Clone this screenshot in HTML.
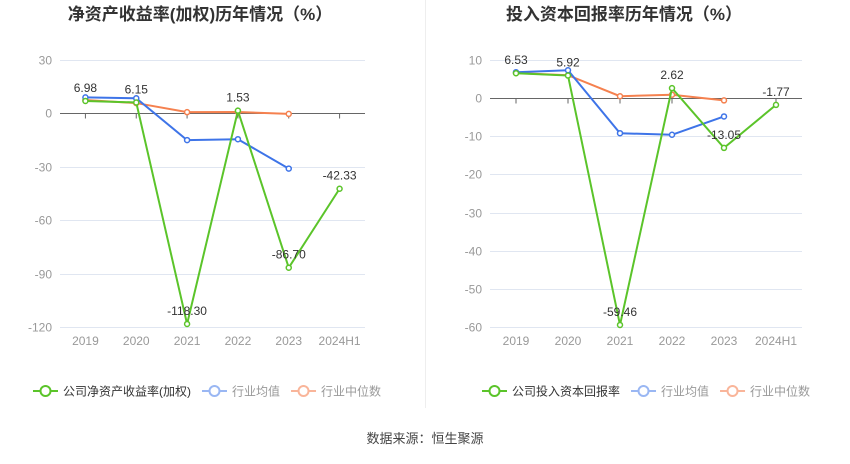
<!DOCTYPE html>
<html><head><meta charset="utf-8">
<style>
body{margin:0;background:#fff;width:850px;height:459px;overflow:hidden;font-family:"Liberation Sans","Noto Sans CJK SC",sans-serif;}
svg text{font-family:"Liberation Sans","Noto Sans CJK SC",sans-serif;}
</style></head>
<body>
<svg id="chart" width="850" height="459">
<line x1="425.5" y1="0" x2="425.5" y2="408" stroke="#eeeeee"/>
<text x="425" y="443" font-size="13" fill="#444" text-anchor="middle">数据来源：恒生聚源</text>
</svg>
<script>
const categories = ["2019","2020","2021","2022","2023","2024H1"];
const roeCompany = [6.98, 6.15, -118.30, 1.53, -86.70, -42.33];
const roeAvg = [9.0, 8.5, -15.0, -14.5, -31.0, null];
const roeMedian = [7.5, 5.8, 0.7, 0.8, -0.3, null];
const roeTicks = [30, 0, -30, -60, -90, -120];
const roiCompany = [6.53, 5.92, -59.46, 2.62, -13.05, -1.77];
const roiAvg = [6.8, 7.3, -9.2, -9.6, -4.8, null];
const roiMedian = [6.6, 6.0, 0.5, 0.9, -0.6, null];
const roiTicks = [10, 0, -10, -20, -30, -40, -50, -60];

const svg = document.getElementById('chart');
const NS = 'http://www.w3.org/2000/svg';
function mk(tag, attrs, parent){const e=document.createElementNS(NS,tag);for(const k in attrs)e.setAttribute(k,attrs[k]);(parent||svg).appendChild(e);return e;}

function drawPanel(cfg){
  const g = mk('g',{});
  
  
  const min=cfg.ticks[cfg.ticks.length-1], max=cfg.ticks[0];
  const y = v => cfg.yTop + (max - v) / (max - min) * (cfg.yBot - cfg.yTop);
  const band = (cfg.x1 - cfg.x0) / categories.length;
  const x = i => cfg.x0 + band * (i + 0.5);
  const t = mk('text',{x:cfg.titleX,y:20,'font-size':17,'font-weight':'bold',fill:'#333','text-anchor':'middle'},g);
  t.textContent = cfg.title;
  
  
  cfg.ticks.forEach(v=>{
    const yy = Math.round(y(v))+0.5;
    const l = mk('line',{x1:cfg.x0,x2:cfg.x1,y1:yy,y2:yy,stroke: v===0?'#666':'#e0e6f1'},g);
    
    
    const tx = mk('text',{x:cfg.x0-8,y:yy+4,'font-size':12,fill:'#999','text-anchor':'end'},g);
    tx.textContent = v;
    
    
  });
  const y0 = Math.round(y(0))+0.5;
  categories.forEach((c,i)=>{
    mk('line',{x1:x(i),x2:x(i),y1:y0,y2:y0+5,stroke:'#666'},g);
    const tx = mk('text',{x:x(i),y:cfg.yBot+18,'font-size':12,fill:'#999','text-anchor':'middle'},g);
    tx.textContent = c;
    
    
  });
  const series = [[cfg.med,'#f5814f','median'],[cfg.avg,'#3e74e8','average'],[cfg.comp,'#5bc42a','company']];
  series.forEach(([arr,col,nm])=>{
    const pts = arr.map((v,i)=>v===null?null:[x(i),y(v)]).filter(p=>p);
    const pl = mk('polyline',{points:pts.map(p=>p.join(',')).join(' '),fill:'none',stroke:col,'stroke-width':2},g);
    
    
    pts.forEach(p=>{
      const c = mk('circle',{cx:p[0],cy:p[1],r:2.5,fill:'#fff',stroke:col,'stroke-width':1.5},g);
      
      
    });
  });
  cfg.comp.forEach((v,i)=>{
    const tx = mk('text',{x:x(i),y:y(v)-9,'font-size':12,fill:'#333','text-anchor':'middle'},g);
    tx.textContent = v.toFixed(2);
    
    
  });
  const items = [[cfg.legend,'#5bc42a','#333'],['行业均值','#9ab7f3','#999'],['行业中位数','#f9b59a','#999']];
  let lx = cfg.legX;
  items.forEach(([lab,col,tc],k)=>{
    const lg = mk('g',{},g);
    
    
    mk('line',{x1:lx,x2:lx+25,y1:391,y2:391,stroke:col,'stroke-width':2},lg);
    mk('circle',{cx:lx+12.5,cy:391,r:5,fill:'#fff',stroke:col,'stroke-width':2},lg);
    const tx = mk('text',{x:lx+30,y:395.5,'font-size':12,fill:tc},lg);
    tx.textContent = lab;
    lx += 30 + tx.getComputedTextLength() + 11;
  });
}
drawPanel({name:'roe-chart',title:'净资产收益率(加权)历年情况（%）',titleX:200,x0:60,x1:365,yTop:60,yBot:327,ticks:roeTicks,comp:roeCompany,avg:roeAvg,med:roeMedian,legend:'公司净资产收益率(加权)',legX:33});
drawPanel({name:'roi-chart',title:'投入资本回报率历年情况（%）',titleX:624,x0:490,x1:802,yTop:60,yBot:327,ticks:roiTicks,comp:roiCompany,avg:roiAvg,med:roiMedian,legend:'公司投入资本回报率',legX:482});
</script>
</body></html>
